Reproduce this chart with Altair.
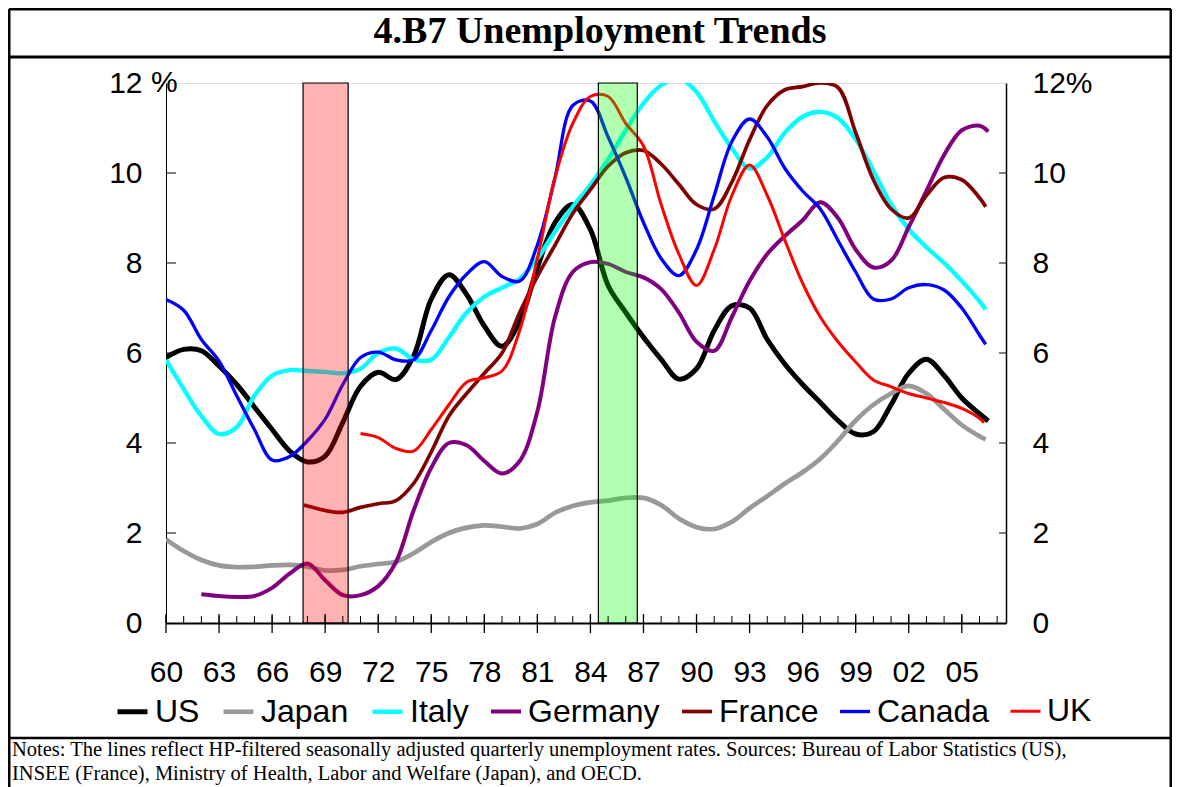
import altair as alt
import pandas as pd

SERIES = ["US", "Japan", "Italy", "Germany", "France", "Canada", "UK"]
COLORS = ["#000000", "#999999", "#00FFFF", "#800080", "#800000", "#0000FF", "#FF0000"]
WIDTHS = [5, 3, 1.3, 3, 1.3, 1.3, 3.5]

US_YEARS = list(range(1960, 2007)) + [2006.5]
US_RATE = [5.9, 6.08, 6.05, 5.71, 5.3, 4.8, 4.3, 3.82, 3.58, 3.71, 4.46, 5.26, 5.57, 5.41, 5.93,
           7.2, 7.74, 7.3, 6.6, 6.15, 6.7, 7.9, 8.9, 9.3, 8.74, 7.5, 6.9, 6.35, 5.86, 5.42, 5.65,
           6.5, 7.05, 7.0, 6.3, 5.75, 5.3, 4.9, 4.5, 4.2, 4.25, 4.85, 5.55, 5.86, 5.5, 5.0, 4.65, 4.49]

JP_YEARS = list(range(1960, 2007)) + [2006.35]
JP_RATE = [1.86, 1.6, 1.4, 1.28, 1.24, 1.25, 1.28, 1.29, 1.25, 1.17, 1.18, 1.26, 1.31, 1.36, 1.55,
           1.8, 2.0, 2.12, 2.17, 2.14, 2.1, 2.2, 2.45, 2.6, 2.68, 2.72, 2.78, 2.78, 2.62, 2.32, 2.13,
           2.09, 2.25, 2.55, 2.82, 3.1, 3.35, 3.65, 4.05, 4.5, 4.85, 5.1, 5.27, 5.1, 4.75, 4.4, 4.15, 4.08]

IT_YEARS = list(range(1960, 2007)) + [2006.35]
IT_RATE = [5.85, 5.2, 4.6, 4.2, 4.35, 5.05, 5.5, 5.62, 5.6, 5.58, 5.55, 5.65, 6.0, 6.1, 5.86,
           5.85, 6.35, 6.9, 7.25, 7.45, 7.65, 8.1, 8.7, 9.25, 9.74, 10.3, 10.95, 11.55, 11.95, 12.1, 11.8,
           11.15, 10.55, 10.1, 10.35, 10.9, 11.25, 11.36, 11.22, 10.75, 10.05, 9.3, 8.75, 8.35, 8.0, 7.6, 7.15, 6.97]

DE_YEARS = list(range(1962, 2007)) + [2006.5]
DE_RATE = [0.64, 0.6, 0.58, 0.6, 0.78, 1.1, 1.32, 0.95, 0.62, 0.62, 0.82, 1.35, 2.5,
           3.45, 4.0, 3.95, 3.6, 3.32, 3.6, 4.7, 6.8, 7.8, 8.02, 7.98, 7.8, 7.68, 7.42, 6.9, 6.25,
           6.05, 6.8, 7.6, 8.2, 8.6, 8.95, 9.35, 9.0, 8.3, 7.9, 8.05, 8.8, 9.6, 10.4, 10.95, 11.05, 10.92]

FR_YEARS = [1967.8] + list(range(1968, 2007)) + [2006.35]
FR_RATE = [2.62, 2.6, 2.5, 2.46, 2.57, 2.65, 2.72, 3.1, 3.8, 4.6, 5.1, 5.55, 6.0, 6.9, 7.7, 8.4,
           9.1, 9.63, 10.15, 10.45, 10.5, 10.2, 9.75, 9.3, 9.2, 9.8, 10.74, 11.5, 11.85, 11.92, 12.0,
           11.9, 10.9, 9.85, 9.2, 9.0, 9.5, 9.9, 9.85, 9.45, 9.25]

CA_YEARS = list(range(1960, 2007)) + [2006.35]
CA_RATE = [7.19, 6.95, 6.3, 5.82, 5.05, 4.3, 3.62, 3.7, 4.05, 4.53, 5.3, 5.9, 6.02, 5.85, 5.85,
           6.5, 7.25, 7.75, 8.03, 7.7, 7.6, 8.4, 9.9, 11.5, 11.6, 10.8, 9.9, 8.9, 8.1, 7.72, 8.3,
           9.5, 10.7, 11.2, 10.8, 10.1, 9.6, 9.2, 8.5, 7.8, 7.2, 7.2, 7.45, 7.52, 7.4, 7.0, 6.4, 6.19]

UK_YEARS = list(range(1971, 2007)) + [2006.25]
UK_RATE = [4.21, 4.12, 3.88, 3.82, 4.3, 4.85, 5.35, 5.45, 5.6, 6.5, 8.1, 9.9, 11.1, 11.7, 11.7,
           11.1, 10.6, 9.3, 8.2, 7.5, 8.3, 9.5, 10.18, 9.5, 8.5, 7.55, 6.8, 6.25, 5.8, 5.4, 5.25,
           5.1, 5.0, 4.9, 4.77, 4.55, 4.45]

BAND_START = [1967.75, 1984.45]
BAND_END = [1970.3, 1986.65]
BAND_COLOR = ["#FF0000", "#00FF00"]

MAJOR_TICKS = list(range(1960, 2007, 3))
MINOR_TICKS = list(range(1960, 2008))
Y_TICKS = [0, 2, 4, 6, 8, 10, 12]

TITLE = "4.B7 Unemployment Trends"
NOTE_1 = ("Notes: The lines reflect HP-filtered seasonally adjusted quarterly unemployment rates. "
          "Sources: Bureau of Labor Statistics (US),")
NOTE_2 = "INSEE (France), Ministry of Health, Labor and Welfare (Japan), and OECD."

rows = []
for name, yrs, vals in [("US", US_YEARS, US_RATE), ("Japan", JP_YEARS, JP_RATE),
                        ("Italy", IT_YEARS, IT_RATE), ("Germany", DE_YEARS, DE_RATE),
                        ("France", FR_YEARS, FR_RATE), ("Canada", CA_YEARS, CA_RATE),
                        ("UK", UK_YEARS, UK_RATE)]:
    for y, v in zip(yrs, vals):
        rows.append({"series": name, "year": y, "rate": v, "order": SERIES.index(name)})
df = pd.DataFrame(rows)

bands = pd.DataFrame({"start": BAND_START, "end": BAND_END, "color": BAND_COLOR,
                      "lo": [0, 0], "hi": [12, 12]})

W, H = 840, 540
XD = [1960, 2007.5]
xs = alt.Scale(domain=XD, nice=False, zero=False)
ys = alt.Scale(domain=[0, 12], nice=False)

FONT = "Liberation Sans"
SERIF = "Liberation Serif"

legend = alt.Legend(orient="none", legendX=-51, legendY=611, direction="horizontal", title=None,
                    symbolType="stroke", symbolSize=900, labelFontSize=32, labelFont=FONT,
                    labelColor="black", labelOffset=5, columnPadding=14, padding=0,
                    labelLimit=300)

x_axis = alt.Axis(values=MAJOR_TICKS, labelExpr="pad(toString(datum.value % 100), 2, '0', 'left')",
                  ticks=False, grid=False, domainColor="black", domainWidth=2,
                  labelFont=FONT, labelFontSize=30, labelColor="black", labelPadding=34,
                  title=None, labelFlush=False)

y_left = alt.Axis(values=Y_TICKS, ticks=False, grid=False, domainColor="black", domainWidth=1,
                  labelFont=FONT, labelFontSize=30, labelColor="black", labelPadding=24,
                  title=None, labelFlush=False)
y_right = alt.Axis(orient="right", values=Y_TICKS, ticks=False, grid=False, domainColor="black",
                   domainWidth=1.5, labelFont=FONT, labelFontSize=30, labelColor="black",
                   labelPadding=26, title=None, labelFlush=False,
                   labelExpr="datum.value == 12 ? '12%' : datum.label")

X = lambda f: alt.X(f, scale=xs, axis=x_axis)

lines = alt.Chart(df).mark_line(interpolate="catmull-rom", clip=True).encode(
    x=X("year:Q"),
    y=alt.Y("rate:Q", scale=ys, axis=y_left),
    color=alt.Color("series:N", scale=alt.Scale(domain=SERIES, range=COLORS), legend=legend),
    strokeWidth=alt.StrokeWidth("series:N", scale=alt.Scale(domain=SERIES, range=WIDTHS), legend=legend),
    order="order:Q",
)

band_layer = alt.Chart(bands).mark_rect(fillOpacity=0.3, stroke="black", strokeWidth=1.2).encode(
    x=X("start:Q"),
    x2="end:Q",
    y=alt.Y("lo:Q", scale=ys, axis=y_right),
    y2="hi:Q",
    fill=alt.Fill("color:N", scale=None),
)

minor = alt.Chart(pd.DataFrame({"year": MINOR_TICKS})).mark_rule(color="black", strokeWidth=1).encode(
    x=X("year:Q"), y=alt.value(H - 7), y2=alt.value(H))
major = alt.Chart(pd.DataFrame({"year": MAJOR_TICKS})).mark_rule(color="black", strokeWidth=1.3).encode(
    x=X("year:Q"), y=alt.value(H - 9), y2=alt.value(H + 10))
yt = pd.DataFrame({"v": Y_TICKS[1:-1]})
ltick = alt.Chart(yt).mark_rule(color="black", strokeWidth=1).encode(
    y=alt.Y("v:Q", scale=ys, axis=None), x=alt.value(0), x2=alt.value(10))
rtick = alt.Chart(yt).mark_rule(color="black", strokeWidth=1).encode(
    y=alt.Y("v:Q", scale=ys, axis=None), x=alt.value(W - 7), x2=alt.value(W))

one = pd.DataFrame({"k": [0]})
def hline(y, x1=-157, x2=1005, w=3):
    return alt.Chart(one).mark_rule(color="black", strokeWidth=w).encode(
        x=alt.value(x1), x2=alt.value(x2), y=alt.value(y))
def vline(x, y1=-74, y2=730, w=3):
    return alt.Chart(one).mark_rule(color="black", strokeWidth=w).encode(
        x=alt.value(x), y=alt.value(y1), y2=alt.value(y2))

frame = [hline(-74), hline(-26), hline(655, w=2.5), vline(-157), vline(1005)]

title = alt.Chart(pd.DataFrame({"t": [TITLE]})).mark_text(
    font=SERIF, fontSize=38, fontWeight="bold", align="center", baseline="alphabetic", color="black"
).encode(text="t:N", x=alt.value(434), y=alt.value(-40))

pct = alt.Chart(pd.DataFrame({"t": ["%"]})).mark_text(
    font=FONT, fontSize=30, align="left", baseline="middle", color="black"
).encode(text="t:N", x=alt.value(-15), y=alt.value(0))

def note(text, y):
    return alt.Chart(pd.DataFrame({"t": [text]})).mark_text(
        font=SERIF, fontSize=20.5, align="left", baseline="alphabetic", color="black"
    ).encode(text="t:N", x=alt.value(-154), y=alt.value(y))

notes = [note(NOTE_1, 673), note(NOTE_2, 697)]

chart = alt.layer(
    lines, band_layer, minor, major, ltick, rtick, pct, title, *notes, *frame
).resolve_axis(y="independent").properties(
    width=W, height=H,
    autosize=alt.AutoSizeParams(type="none"),
    padding={"left": 158, "top": 75, "right": 166, "bottom": 164},
).configure_view(stroke="#404040", strokeWidth=2.5).configure(background="white")

chart.save("out.html", embed_options={"renderer": "svg", "actions": False})
